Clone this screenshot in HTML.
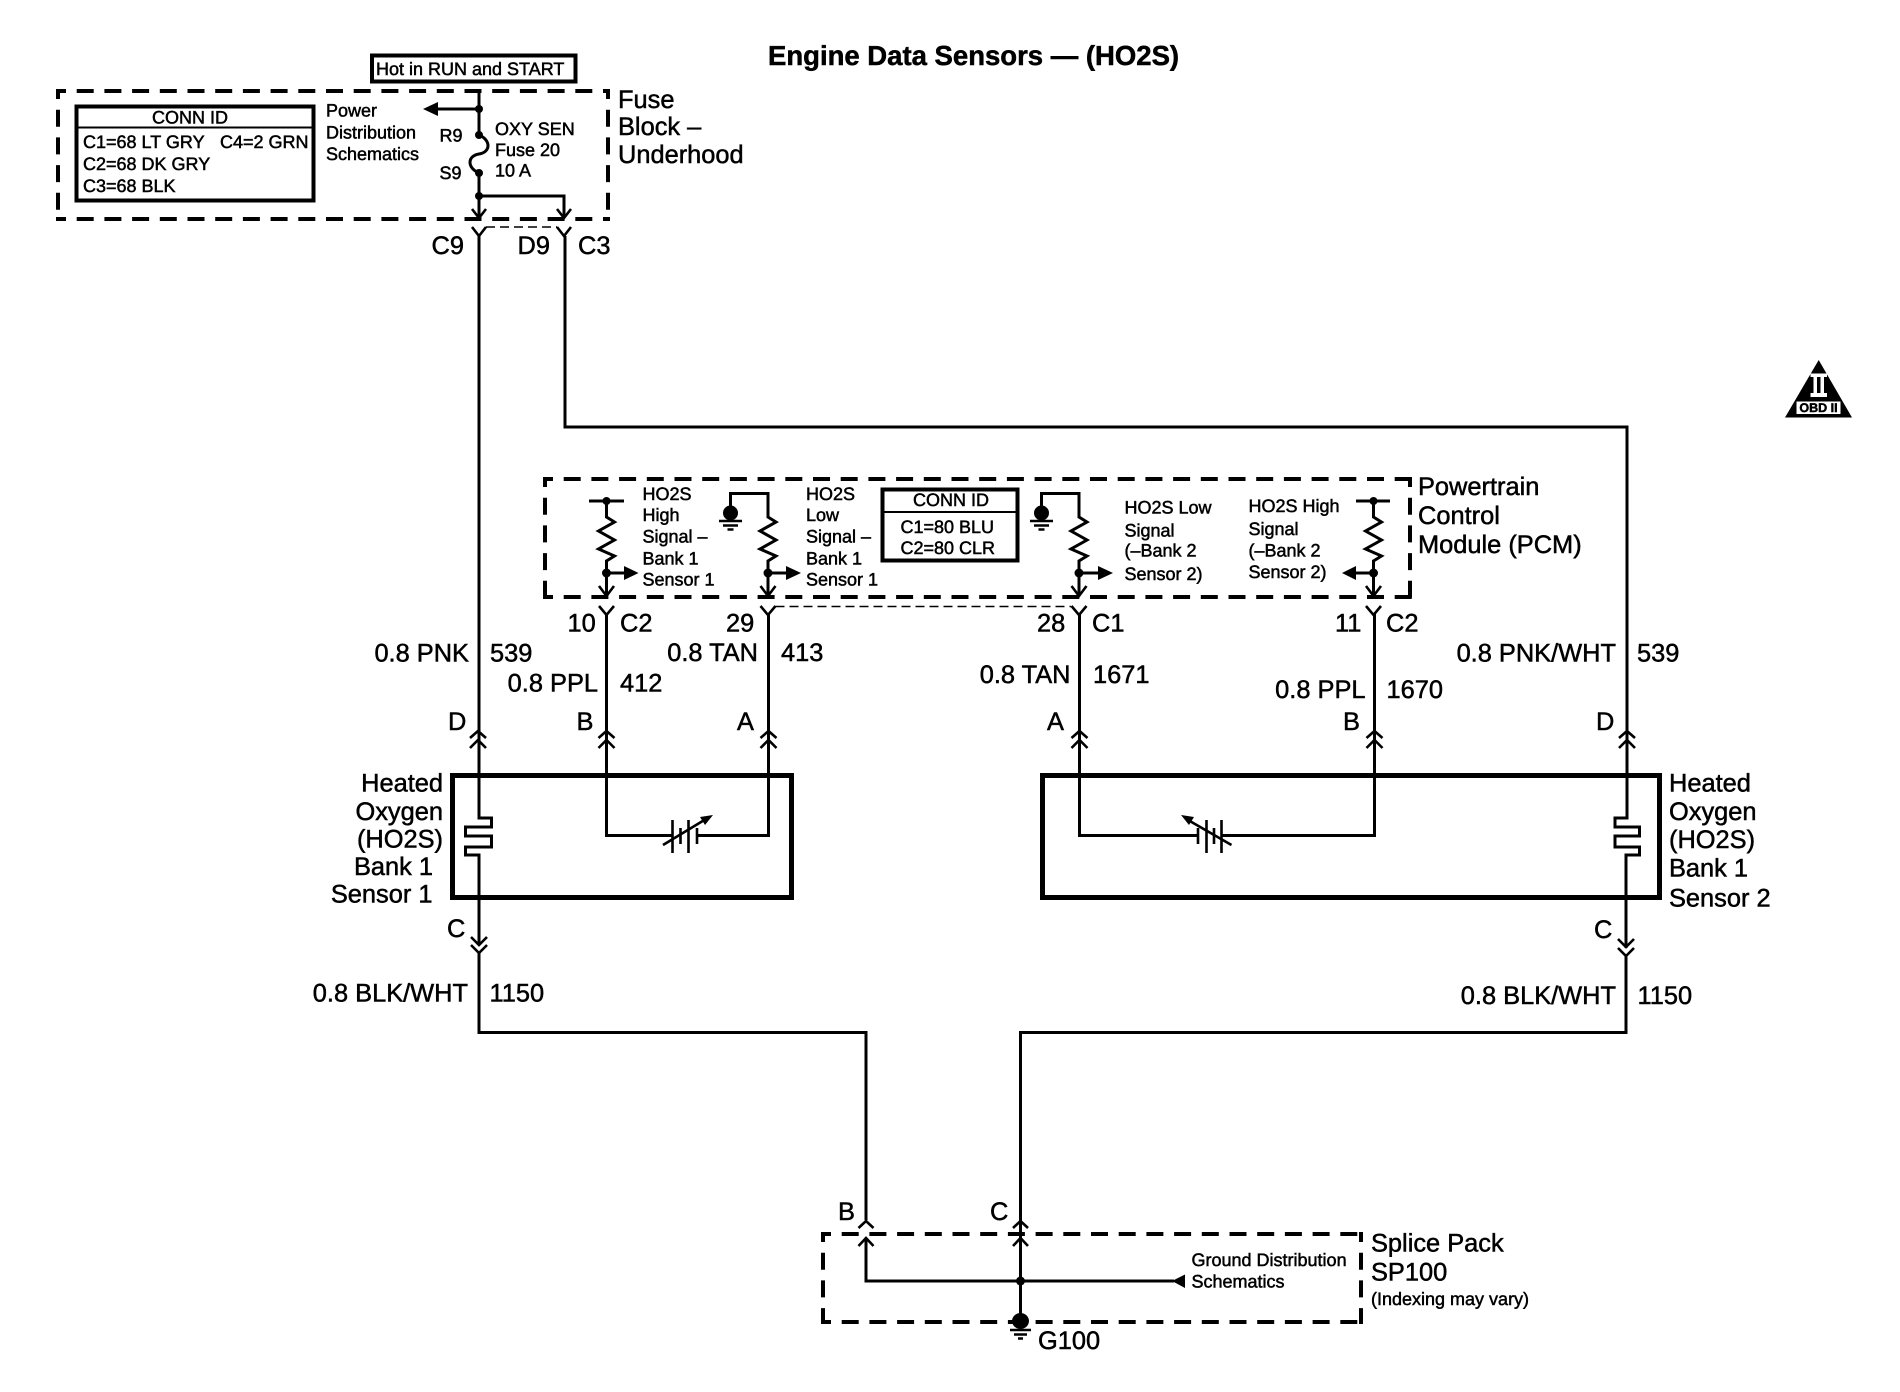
<!DOCTYPE html>
<html><head><meta charset="utf-8"><title>Engine Data Sensors — (HO2S)</title>
<style>
html,body{margin:0;padding:0;background:#fff}
svg{display:block}
text{font-family:"Liberation Sans",sans-serif;fill:#000;stroke:#000;stroke-width:.5;text-rendering:geometricPrecision}
.s{font-size:18px}.m{font-size:25.4px}
.e{text-anchor:end}.c{text-anchor:middle}
.w{fill:none;stroke:#000;stroke-width:3;stroke-linejoin:miter}
.f{fill:none;stroke:#000;stroke-width:2.6}
.d{fill:none;stroke:#000;stroke-width:4;stroke-dasharray:17 10.7;stroke-dashoffset:7}
.b{fill:none;stroke:#000;stroke-width:4}
.k{fill:#000;stroke:none}
</style></head><body>
<svg width="1900" height="1392" viewBox="0 0 1900 1392" xmlns="http://www.w3.org/2000/svg">
<rect width="1900" height="1392" fill="#fff"/>
<text x="768" y="65" font-size="27.500" font-weight="bold">Engine Data Sensors — (HO2S)</text>

<!-- Fuse block -->
<rect x="372" y="55.5" width="203.500" height="26" class="b"/>
<text x="376" y="75" class="s">Hot in RUN and START</text>
<path d="M56 91H610M56 219H610M58 89V221M608 89V221" class="d"/>
<rect x="76.500" y="106.500" width="237" height="94" class="b"/>
<path d="M76 127.500H314" fill="none" stroke="#000" stroke-width="2"/>
<text x="190" y="123.500" class="s c">CONN ID</text>
<text x="83" y="148" class="s">C1=68 LT GRY</text><text x="220" y="148" class="s">C4=2 GRN</text>
<text x="83" y="170" class="s">C2=68 DK GRY</text>
<text x="83" y="192" class="s">C3=68 BLK</text>
<text x="326" y="116.500" class="s">Power</text><text x="326" y="138.500" class="s">Distribution</text><text x="326" y="160" class="s">Schematics</text>
<text x="439.500" y="141.500" class="s">R9</text><text x="439.500" y="179" class="s">S9</text>
<text x="495" y="135" class="s">OXY SEN</text><text x="495" y="156" class="s">Fuse 20</text><text x="495" y="176.500" class="s">10 A</text>
<text x="618" y="108" class="m">Fuse</text><text x="618" y="135" class="m">Block –</text><text x="618" y="163" class="m">Underhood</text>
<path d="M479 91V135C491 140 491 152 479 154C467 156 467 168 479 173V217" class="w"/>
<path d="M479 109H436" class="w"/><path d="M423 109L438 102V116Z" class="k"/>
<circle cx="479" cy="109" r="4" class="k"/><circle cx="479" cy="135" r="4" class="k"/><circle cx="479" cy="173" r="4" class="k"/><circle cx="479" cy="196" r="4" class="k"/>
<path d="M479 196H564V217" class="w"/>
<path d="M472 209L479 218L486 209M557 209L564 218L571 209" class="f"/>
<path d="M472 227L479 236L486 227M557 227L564 236L571 227" class="f"/>
<path d="M486 227H557" fill="none" stroke="#000" stroke-width="1.500" stroke-dasharray="9 5"/>
<text x="431.500" y="254" class="m">C9</text><text x="517.500" y="254" class="m">D9</text><text x="578" y="254" class="m">C3</text>

<!-- Long wires -->
<path d="M479 236V818H491.500V827H465.500V836H491.500V847H465.500V855H479V945" class="w"/>
<path d="M565 236V427H1627V818H1615V827H1639.500V836H1615V847H1639.500V855H1626V948" class="w"/>

<!-- PCM -->
<path d="M543 479H1412M543 597H1412M545 477V599M1410 477V599" class="d"/>
<rect x="882.500" y="489.500" width="135" height="71" class="b"/>
<path d="M881 512H1019" fill="none" stroke="#000" stroke-width="2"/>
<text x="951" y="506" class="s c">CONN ID</text>
<text x="900.500" y="533" class="s">C1=80 BLU</text><text x="900.500" y="554" class="s">C2=80 CLR</text>
<g class="s">
<text x="642.500" y="500">HO2S</text><text x="642.500" y="521">High</text><text x="642.500" y="542.500">Signal –</text><text x="642.500" y="564.500">Bank 1</text><text x="642.500" y="585.500">Sensor 1</text>
<text x="806" y="500">HO2S</text><text x="806" y="521">Low</text><text x="806" y="542.500">Signal –</text><text x="806" y="564.500">Bank 1</text><text x="806" y="585.500">Sensor 1</text>
<text x="1124.500" y="513.500">HO2S Low</text><text x="1124.500" y="536.500">Signal</text><text x="1124.500" y="556.500">(–Bank 2</text><text x="1124.500" y="580">Sensor 2)</text>
<text x="1248.500" y="512">HO2S High</text><text x="1248.500" y="535">Signal</text><text x="1248.500" y="556.500">(–Bank 2</text><text x="1248.500" y="578">Sensor 2)</text>
</g>
<text x="1418" y="495" class="m">Powertrain</text><text x="1418" y="524" class="m">Control</text><text x="1418" y="553" class="m">Module (PCM)</text>

<!-- sensor 1 high -->
<path d="M589 501H624" class="w"/><circle cx="606.500" cy="501" r="4" class="k"/>
<path d="M606.500 501V517L614.500 522L598.500 531L614.500 540L598.500 549L614.500 556L606.500 561V594" class="w"/>
<circle cx="606.500" cy="573" r="4.500" class="k"/><path d="M606.500 573H626" class="w"/><path d="M638.500 573L624 566V580Z" class="k"/>
<!-- sensor 1 low -->
<path d="M730.500 513V493.500H768V517L776 522L760 531L776 540L760 549L776 556L768 561V594" class="w"/>
<circle cx="730.500" cy="513" r="7.500" class="k"/><path d="M719 521H742M723 525.500H738M727.500 529.500H733.500" class="f"/>
<circle cx="768" cy="573" r="4.500" class="k"/><path d="M768 573H788" class="w"/><path d="M801 573L786 566V580Z" class="k"/>
<!-- bank 2 low -->
<path d="M1041.500 513V493.500H1079V517L1087 522L1071 531L1087 540L1071 549L1087 556L1079 561V594" class="w"/>
<circle cx="1041.500" cy="513" r="7.500" class="k"/><path d="M1030 521H1053M1034 525.500H1049M1038.500 529.500H1044.500" class="f"/>
<circle cx="1079" cy="573" r="4.500" class="k"/><path d="M1079 573H1100" class="w"/><path d="M1113 573L1098 566V580Z" class="k"/>
<!-- bank 2 high -->
<path d="M1356 501H1390" class="w"/><circle cx="1373.500" cy="501" r="4" class="k"/>
<path d="M1373.500 501V517L1381.500 522L1365.500 531L1381.500 540L1365.500 549L1381.500 556L1373.500 561V594" class="w"/>
<circle cx="1373.500" cy="573" r="4.500" class="k"/><path d="M1373.500 573H1354" class="w"/><path d="M1342 573L1356 566V580Z" class="k"/>

<path d="M599 586L606.500 596L614 586M760.500 586L768 596L775.500 586M1071.500 586L1079 596L1086.500 586M1366 586L1373.500 596L1381 586" class="f"/>
<path d="M599 606L606.500 615L614 606M760.500 606L768 615L775.500 606M1071.500 606L1079 615L1086.500 606M1366 606L1373.500 615L1381 606" class="f"/>
<path d="M775.500 606.500H1071" fill="none" stroke="#000" stroke-width="1.500" stroke-dasharray="9 5"/>
<path d="M606.500 613V835.500H672.500M697 835.500H768.500V613" class="w"/>
<path d="M1079.500 613V835.500H1198M1221.500 835.500H1374.500V613" class="w"/>

<g class="m">
<text x="567.500" y="631.500">10</text><text x="620" y="631.500">C2</text><text x="726" y="631.500">29</text>
<text x="1037" y="631.500">28</text><text x="1092" y="631.500">C1</text><text x="1335" y="631.500">11</text><text x="1386" y="631.500">C2</text>
<text x="469" y="661.500" class="e">0.8 PNK</text><text x="490" y="661.500">539</text>
<text x="598" y="691.500" class="e">0.8 PPL</text><text x="620" y="691.500">412</text>
<text x="758" y="661" class="e">0.8 TAN</text><text x="781" y="661">413</text>
<text x="1070.500" y="683" class="e">0.8 TAN</text><text x="1093" y="683">1671</text>
<text x="1365.500" y="698" class="e">0.8 PPL</text><text x="1386.500" y="698">1670</text>
<text x="1616" y="661.500" class="e">0.8 PNK/WHT</text><text x="1637" y="661.500">539</text>
<text x="448" y="730">D</text><text x="576.500" y="730">B</text><text x="737" y="730">A</text>
<text x="1047" y="730">A</text><text x="1343" y="730">B</text><text x="1596" y="730">D</text>
<text x="447" y="937">C</text><text x="1594" y="938">C</text>
<text x="468" y="1001.500" class="e">0.8 BLK/WHT</text><text x="489.500" y="1001.500">1150</text>
<text x="1616" y="1004" class="e">0.8 BLK/WHT</text><text x="1637.500" y="1004">1150</text>
<text x="443" y="791.500" class="e">Heated</text><text x="443" y="820" class="e">Oxygen</text><text x="443" y="847.500" class="e">(HO2S)</text><text x="433" y="875" class="e">Bank 1</text><text x="432.500" y="902.500" class="e">Sensor 1</text>
<text x="1669" y="791.500">Heated</text><text x="1669" y="820">Oxygen</text><text x="1669" y="848">(HO2S)</text><text x="1669" y="876.500">Bank 1</text><text x="1669" y="906.500">Sensor 2</text>
<text x="838" y="1220">B</text><text x="990" y="1220">C</text><text x="1038" y="1349">G100</text>
<text x="1371" y="1251.500">Splice Pack</text><text x="1371" y="1280.500">SP100</text>
</g>

<!-- chevrons at sensors -->
<path d="M470 738L478 731L486 738M470 748L478 740L486 748M598.500 738L606.500 731L614.500 738M598.500 748L606.500 740L614.500 748M760.500 738L768.500 731L776.500 738M760.500 748L768.500 740L776.500 748M1071.500 738L1079.500 731L1087.500 738M1071.500 748L1079.500 740L1087.500 748M1366.500 738L1374.500 731L1382.500 738M1366.500 748L1374.500 740L1382.500 748M1619 738L1627 731L1635 738M1619 748L1627 740L1635 748" class="f"/>
<path d="M471 937L479 945L487 937M471 945L479 953L487 945M1618 939L1626 947L1634 939M1618 948L1626 956L1634 948" class="f"/>

<!-- sensor boxes -->
<rect x="452.500" y="775.500" width="339" height="122" fill="none" stroke="#000" stroke-width="5"/>
<rect x="1042.500" y="775.500" width="617" height="122" fill="none" stroke="#000" stroke-width="5"/>
<!-- variable elements -->
<path d="M672.500 820V853M688.500 820V853" class="f"/><path d="M680.500 828V844M697 828V844" class="f"/>
<path d="M663 845L706 819" class="f"/><path d="M713 815L700 817L705 825Z" class="k"/>
<path d="M1206.500 820V853M1221.500 820V853" class="f"/><path d="M1198 828V844M1214 828V844" class="f"/>
<path d="M1231.500 845L1188 820" class="f"/><path d="M1181 815L1194 817L1189 825Z" class="k"/>

<!-- Ground wires -->
<path d="M479 953V1032.500H866V1220" class="w"/>
<path d="M1626 956V1032.500H1020.500V1322" class="w"/>

<!-- Splice pack -->
<path d="M821 1234H1363M821 1322H1363M823 1232V1324M1361 1232V1324" class="d"/>
<path d="M866 1238V1281H1174" class="w"/><path d="M1172 1281L1185 1274.500V1288Z" class="k"/>
<circle cx="1020.500" cy="1281" r="4.500" class="k"/>
<ellipse cx="1020.500" cy="1321" rx="8.500" ry="8" class="k"/>
<path d="M1010 1330H1031M1014 1334.500H1027M1018 1338.500H1023" class="f"/>
<path d="M858.500 1228L866 1221L873.500 1228M1013 1228L1020.500 1221L1028 1228M858.500 1246L866 1238L873.500 1246M1013 1246L1020.500 1238L1028 1246" class="f"/>
<text x="1191.500" y="1266" class="s">Ground Distribution</text><text x="1191.500" y="1287.500" class="s">Schematics</text>
<text x="1371" y="1305" class="s">(Indexing may vary)</text>

<!-- OBD II -->
<path d="M1818.700 360L1852 417.500H1785Z" class="k"/>
<path d="M1810.500 373.500H1827V377H1824V393H1827V397H1810.500V393H1813.500V377H1810.500Z" fill="#fff"/>
<rect x="1817" y="377" width="3.500" height="16" class="k"/>
<rect x="1796.500" y="401.500" width="44" height="12.500" fill="#fff"/>
<text x="1818.500" y="412" font-size="12.500" font-weight="bold" class="c">OBD II</text>
</svg>
</body></html>
